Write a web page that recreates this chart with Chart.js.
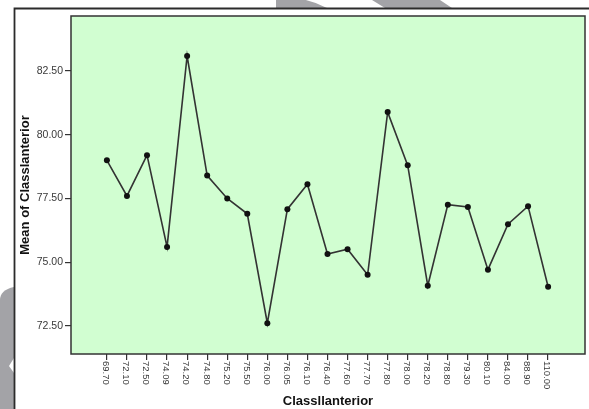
<!DOCTYPE html>
<html>
<head>
<meta charset="utf-8">
<script src="https://cdn.jsdelivr.net/npm/chart.js@4.4.1/dist/chart.umd.min.js"></script>
<style>
  html, body { margin: 0; padding: 0; background: #ffffff; }
  #wrap { position: relative; width: 589px; height: 409px; }
  canvas { display: block; }
</style>
</head>
<body>
<div id="wrap"><canvas id="chart" width="589" height="409"></canvas></div>
<script>
// Class II anterior values (x categories) and the mean of Class I anterior for each
const categories = ['69.70', '72.10', '72.50', '74.09', '74.20', '74.80', '75.20', '75.50',
  '76.00', '76.05', '76.10', '76.40', '77.60', '77.70', '77.80', '78.00', '78.20', '78.80',
  '79.30', '80.10', '84.00', '88.90', '110.00'];
const meanValues = [79.00, 77.60, 79.20, 75.60, 83.09, 78.40, 77.50, 76.90,
  72.61, 77.08, 78.06, 75.32, 75.51, 74.51, 80.89, 78.80, 74.08, 77.26,
  77.17, 74.71, 76.49, 77.20, 74.04];
const yTickValues = [72.5, 75.0, 77.5, 80.0, 82.5];

const AXIS_FONT = "'Liberation Sans', Arial, sans-serif";

const pointsData = meanValues.map((v, i) => ({ x: i, y: v }));

// Background, frame and plot box
const framePlugin = {
  id: 'framePlugin',
  beforeDraw(chart) {
    const ctx = chart.ctx;
    const a = chart.chartArea;
    ctx.save();
    // soft grey shapes behind the frame
    ctx.fillStyle = '#a3a3a7';
    ctx.beginPath();
    ctx.moveTo(276, 0);
    ctx.quadraticCurveTo(300, -6, 327, 8);
    ctx.lineTo(276, 8);
    ctx.closePath();
    ctx.fill();
    ctx.beginPath();
    ctx.moveTo(372, 0);
    ctx.lineTo(440, 0);
    ctx.lineTo(452, 8);
    ctx.lineTo(385, 8);
    ctx.closePath();
    ctx.fill();
    ctx.beginPath();
    ctx.moveTo(14, 287);
    ctx.quadraticCurveTo(0, 290, 0, 300);
    ctx.lineTo(0, 409);
    ctx.lineTo(14, 409);
    ctx.closePath();
    ctx.fill();
    ctx.fillStyle = '#ffffff';
    ctx.beginPath();
    ctx.moveTo(14, 358);
    ctx.lineTo(9, 366);
    ctx.lineTo(14, 373);
    ctx.closePath();
    ctx.fill();

    // outer frame
    ctx.strokeStyle = '#2b2b2b';
    ctx.lineWidth = 1.8;
    ctx.beginPath();
    ctx.moveTo(14.5, 409);
    ctx.lineTo(14.5, 8.5);
    ctx.lineTo(589, 8.5);
    ctx.stroke();

    // plot background
    ctx.fillStyle = '#d1fed1';
    ctx.fillRect(a.left, a.top, a.right - a.left, a.bottom - a.top);
    ctx.restore();
  },
  beforeDatasetsDraw(chart) {
    const ctx = chart.ctx;
    const a = chart.chartArea;
    ctx.save();
    ctx.strokeStyle = '#333333';
    ctx.lineWidth = 1.5;
    ctx.strokeRect(a.left, a.top, a.right - a.left, a.bottom - a.top);
    ctx.restore();
  },
  afterDraw(chart) {
    // x category labels, rotated to read top-to-bottom
    const ctx = chart.ctx;
    const xs = chart.scales.x;
    const top = chart.chartArea.bottom + 7;
    ctx.save();
    ctx.fillStyle = '#3a3a3a';
    ctx.font = "9.5px " + AXIS_FONT;
    ctx.textAlign = 'left';
    ctx.textBaseline = 'middle';
    categories.forEach((lab, i) => {
      const px = xs.getPixelForValue(i);
      ctx.save();
      ctx.translate(px - 1, top);
      ctx.rotate(Math.PI / 2);
      ctx.fillText(lab, 0, 0);
      ctx.restore();
    });
    ctx.restore();
  }
};

new Chart(document.getElementById('chart'), {
  type: 'line',
  data: {
    datasets: [{
      data: pointsData,
      borderColor: '#333333',
      borderWidth: 1.6,
      tension: 0,
      pointRadius: 3,
      pointHoverRadius: 3,
      pointBackgroundColor: '#111111',
      pointBorderColor: '#111111',
      pointBorderWidth: 0,
      fill: false
    }]
  },
  options: {
    responsive: false,
    animation: false,
    events: [],
    layout: { padding: { left: 0, top: 16, right: 4, bottom: 0 } },
    plugins: { legend: { display: false }, tooltip: { enabled: false } },
    scales: {
      x: {
        type: 'linear',
        min: -1.79,
        max: 23.84,
        afterBuildTicks(scale) {
          scale.ticks = categories.map((c, i) => ({ value: i }));
        },
        afterFit(scale) { scale.height = 55; },
        ticks: { display: false },
        grid: {
          drawOnChartArea: false,
          drawTicks: true,
          tickLength: 6,
          tickColor: '#333333',
          lineWidth: 1.2
        },
        border: { display: false },
        title: {
          display: true,
          text: 'Classllanterior',
          color: '#111111',
          font: { family: AXIS_FONT, size: 13, weight: 'bold' },
          padding: { top: 0, bottom: 0 }
        }
      },
      y: {
        type: 'linear',
        min: 71.40,
        max: 84.66,
        afterBuildTicks(scale) {
          scale.ticks = yTickValues.map(v => ({ value: v }));
        },
        afterFit(scale) { scale.width = 71; },
        ticks: {
          color: '#3a3a3a',
          padding: 2,
          font: { family: AXIS_FONT, size: 10.5 },
          callback: v => Number(v).toFixed(2)
        },
        grid: {
          drawOnChartArea: false,
          drawTicks: true,
          tickLength: 6,
          tickColor: '#333333',
          lineWidth: 1.2
        },
        border: { display: false },
        title: {
          display: true,
          text: 'Mean of Classlanterior',
          color: '#111111',
          font: { family: AXIS_FONT, size: 13, weight: 'bold' },
          padding: { top: 18, bottom: 0 }
        }
      }
    }
  },
  plugins: [framePlugin]
});
</script>
</body>
</html>
